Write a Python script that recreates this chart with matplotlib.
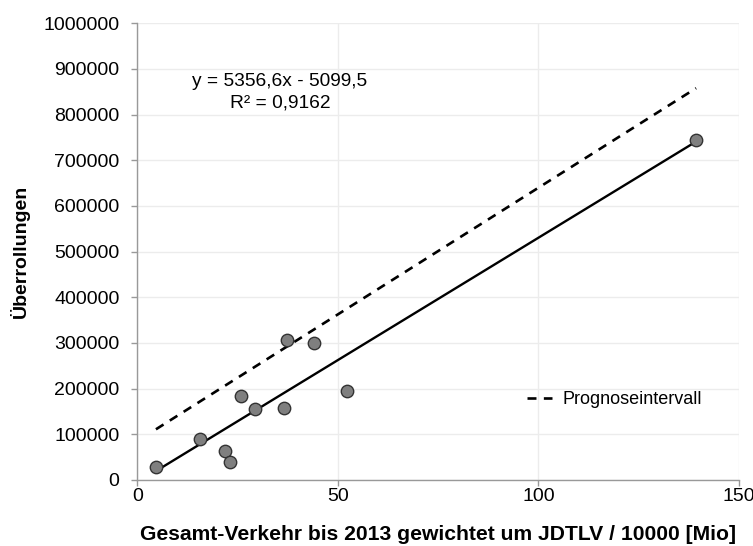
import matplotlib
matplotlib.use("Agg")
import matplotlib.pyplot as plt
import numpy as np

plt.rcParams['font.family'] = ['Liberation Sans', 'DejaVu Sans']

# measured points
verkehr = [4.6, 15.6, 21.8, 23.1, 25.7, 29.3, 36.6, 37.4, 43.9, 52.2, 139.3]
ueberrollungen = [28000, 89700, 64000, 39400, 185000, 154700, 158000, 307000, 300500, 194000, 745500]

# linear fit y = a*x + b
slope = 5356.6
intercept = -5099.5
r2 = 0.9162

# upper prediction interval (end points)
prognose_x = [4.6, 139.3]
prognose_y = [111000, 858000]

x_ticks = [0, 50, 100, 150]
y_ticks = list(range(0, 1000001, 100000))

fig = plt.figure(figsize=(7.53, 5.46), dpi=100)
ax = fig.add_axes([0.1826, 0.1209, 0.7988, 0.8364])

# trend line over data range
x_fit = np.array([min(verkehr), max(verkehr)])
ax.plot(x_fit, slope * x_fit + intercept, color='black', lw=1.7, zorder=3)

ax.plot(prognose_x, prognose_y, color='black', lw=1.9, dashes=(3.4, 2.8),
        label='Prognoseintervall', zorder=3)

ax.scatter(verkehr, ueberrollungen, s=80, color='#7f7f7f', edgecolors='#333333',
           linewidths=1.0, zorder=4)

ax.text(35.5, 871500, 'y = 5356,6x - 5099,5', ha='center', va='center', fontsize=13.8)
ax.text(35.5, 825500, 'R² = %s' % str(r2).replace('.', ','), ha='center', va='center', fontsize=13.8)

ax.set_xlim(0, 150)
ax.set_ylim(0, 1000000)
ax.set_xticks(x_ticks)
ax.set_yticks(y_ticks)
ax.set_xticklabels([str(v) for v in x_ticks], fontsize=14)
ax.set_yticklabels([str(v) for v in y_ticks], fontsize=14)

ax.grid(True, color='#ececec', lw=1.0)
ax.set_axisbelow(True)
for side in ['top', 'right']:
    ax.spines[side].set_visible(False)
for side in ['left', 'bottom']:
    ax.spines[side].set_color('#999999')
    ax.spines[side].set_linewidth(1.0)
ax.tick_params(colors='#999999', labelcolor='black', length=4, width=1.0)
ax.tick_params(axis='x', pad=2)
ax.tick_params(axis='y', pad=9)

ax.set_xlabel('Gesamt-Verkehr bis 2013 gewichtet um JDTLV / 10000 [Mio]',
              fontsize=15.2, fontweight='bold', labelpad=14)
ax.set_ylabel('Überrollungen', fontsize=14, fontweight='bold', labelpad=10)

ax.legend(loc='center left', bbox_to_anchor=(0.62, 0.1756), frameon=False,
          fontsize=13, handlelength=1.4, handletextpad=0.6)

fig.savefig('out.png', dpi=100)
